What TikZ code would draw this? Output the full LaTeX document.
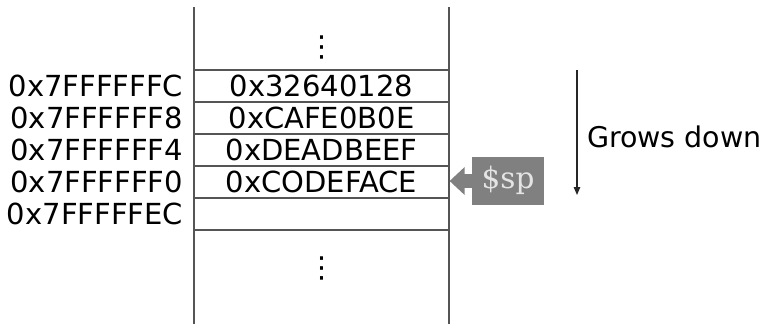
\documentclass[tikz,border=0pt]{standalone}
\usepackage{fontspec}
\setmainfont{DejaVu Sans}
\newfontfamily\spfont{DejaVu Serif}
\usetikzlibrary{arrows.meta}
\definecolor{linegray}{HTML}{555555}
\definecolor{boxgray}{HTML}{808080}
\definecolor{boxtext}{HTML}{E4E4E4}
\begin{document}
\begin{tikzpicture}[x=1pt,y=-1pt,
  every node/.style={inner sep=0pt, outer sep=0pt},
  txt/.style={font=\fontsize{29}{29}\selectfont, text height=21pt, text depth=0pt},
  cell/.style={txt, draw=linegray, line width=1.2pt, minimum width=255pt, minimum height=32pt},
  addr/.style={txt, anchor=east},
  colline/.style={draw=linegray, line width=1.2pt},
  dotsnode/.style={font=\fontsize{29}{29}\selectfont},
  spbox/.style={fill=boxgray, text=boxtext, minimum width=72pt, minimum height=48pt,
    text height=14pt, text depth=0pt,
    font=\spfont\fontsize{29.5}{29.5}\selectfont},
  sparrow/.style={draw=boxgray, line width=14pt, -{Triangle[length=15pt,width=27pt]}},
  growarrow/.style={draw=black!85, line width=1.1pt, -{Triangle[length=8pt,width=6.5pt]}}
]
\useasboundingbox (0,0) rectangle (767,324);
\coordinate (ltop) at (194,7);
\coordinate (lbot) at (194,324);
\coordinate (rtop) at (449,7);
\coordinate (rbot) at (449,324);
\draw[colline] (ltop) -- (lbot);
\draw[colline] (rtop) -- (rbot);

\node[cell] (c1) at (321.5,86) {0x32640128};
\node[cell] (c2) at (321.5,118) {0xCAFE0B0E};
\node[cell] (c3) at (321.5,150) {0xDEADBEEF};
\node[cell] (c4) at (321.5,182) {0xCODEFACE};
\node[cell] (c5) at (321.5,214) {};

\node[dotsnode] (dtop) at (321.5,47) {⋮};
\node[dotsnode] (dbot) at (321.5,268) {⋮};

\node[addr] (a1) at (183,86) {0x7FFFFFFC};
\node[addr] (a2) at (183,118) {0x7FFFFFF8};
\node[addr] (a3) at (183,150) {0x7FFFFFF4};
\node[addr] (a4) at (183,182) {0x7FFFFFF0};
\node[addr] (a5) at (183,214) {0x7FFFFFEC};

\node[spbox] (sp) at (508,181) {\$sp};
\draw[sparrow] (sp.west) -- ([xshift=0.6pt]c4.east |- sp.west);

\coordinate (gtop) at (577,70);
\coordinate (gbot) at (577,195);
\draw[growarrow] (gtop) -- (gbot);
\node[txt, anchor=west, font=\fontsize{28.5}{28.5}\selectfont] (grow) at (587,137) {Grows down};
\end{tikzpicture}
\end{document}
